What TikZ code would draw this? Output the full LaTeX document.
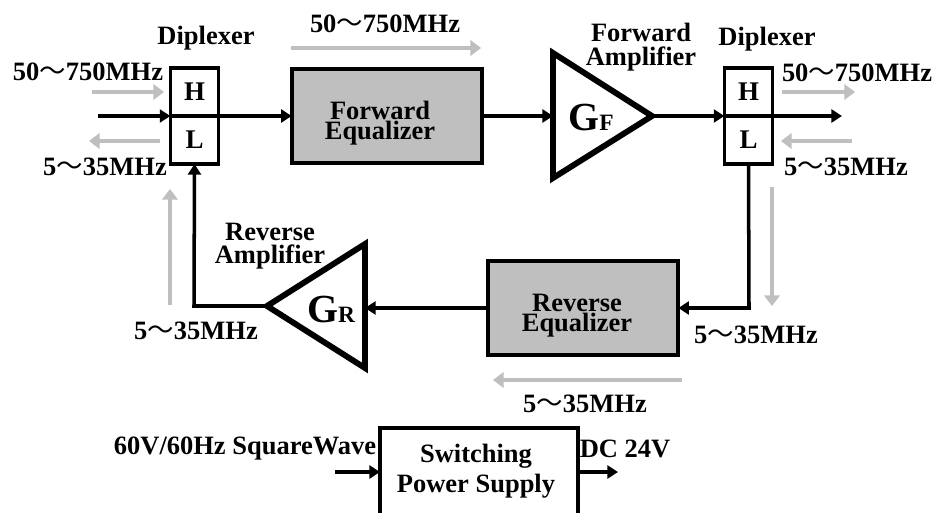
\documentclass[tikz,border=0pt]{standalone}
\usepackage{fontspec}
\setmainfont{Liberation Serif}
\newfontfamily\cjk{Noto Sans CJK SC}
\usetikzlibrary{arrows.meta}
\newcommand{\wave}{{\cjk\mdseries ～}}
\tikzset{
    lbl/.style={font=\fontsize{22.6}{20}\selectfont\bfseries, inner sep=0pt, align=center},
    bigbox/.style={draw, line width=3.4pt, fill=black!25, outer sep=0pt, minimum width=5.72cm, minimum height=2.82cm},
    sig/.style={line width=3pt, -{Triangle[length=9pt,width=11pt]}},
    flow/.style={line width=4pt, draw=black!25, -{Triangle[length=9pt,width=13pt]}, black!25},
    tri/.style={line width=5pt, line join=miter},
    dip/.style={draw, line width=3pt, outer sep=0pt, minimum width=1.45cm, minimum height=1.44cm, inner sep=0pt, font=\fontsize{23}{24}\selectfont\bfseries}
}
\begin{document}
\begin{tikzpicture}[x=0.03cm, y=-0.03cm]
    \useasboundingbox (0,0) rectangle (934,513);

    % Diplexers
    \node[dip] (hl) at (194.5,92) {H};
    \node[dip] (ll) at (194.5,140) {L};
    \node[dip] (hr) at (748.5,92) {H};
    \node[dip] (lr) at (748.5,140) {L};
    \node[lbl] (dipl) at (206,38) {Diplexer};
    \node[lbl] (dipr) at (767,39) {Diplexer};

    % Equalizers
    \node[bigbox] (feq) at (387,116) {};
    \node[lbl] (feqt) at (380,123) {Forward\\[-3pt]Equalizer};
    \node[bigbox] (req) at (583,308) {};
    \node[lbl] (reqt) at (577,316) {Reverse\\[-3pt]Equalizer};

    % Amplifiers
    \coordinate (gfin) at (553,116);
    \coordinate (gfout) at (652,116);
    \coordinate (grin) at (365,308);
    \coordinate (grout) at (267,306);
    \draw[tri] (553,53) -- (gfout) -- (553,178) -- cycle;
    \draw[tri] (365,244) -- (grout) -- (365,368) -- cycle;
    \node[inner sep=0pt, font=\bfseries] (gf) at (591,118) {\fontsize{34}{35}\selectfont G\fontsize{20}{21}\selectfont F};
    \node[inner sep=0pt, font=\bfseries] (gr) at (331,310) {\fontsize{34}{35}\selectfont G\fontsize{20}{21}\selectfont R};
    \node[lbl] (fwamp) at (641,47) {Forward\\Amplifier};
    \node[lbl] (rvamp) at (270,246) {Reverse\\Amplifier};

    % Power supply, open at the bottom edge
    \coordinate (psl) at (380,513);
    \coordinate (psr) at (578,513);
    \coordinate (psin) at (380,472);
    \coordinate (psout) at (578,472);
    \draw[line width=3.4pt] (psl) -- (380,428) -- (578,428) -- (psr);
    \node[lbl] (pst) at (476,471) {Switching\\[4pt]Power Supply};
    \node[lbl] (psa) at (245,449) {60V/60Hz SquareWave};
    \node[lbl] (psb) at (625,449) {DC 24V};

    % Signal path
    \coordinate (inl) at (98,116);
    \coordinate (outr) at (842,116);
    \coordinate (fbr) at (749,308);
    \coordinate (fbl) at (194,306);
    \coordinate (psa0) at (335,472);
    \coordinate (psb0) at (618,472);
    \draw[sig] (inl) -- (hl.south west);
    \draw[sig] (hl.south east) -- (feq.west);
    \draw[sig] (feq.east) -- (gfin);
    \draw[sig] (gfout) -- (hr.south west);
    \draw[sig] (hr.south east) -- (outr);
    \draw[sig] (lr.south) -- (fbr) -- (req.east);
    \draw[sig] (req.west) -- (grin);
    \draw[sig] (grout) -- (fbl) -- (ll.south);
    \draw[sig] (psa0) -- (psin);
    \draw[sig] (psout) -- (psb0);

    % Gray flow arrows
    \draw[flow] (92,92) -- (164,92);
    \draw[flow] (160,141) -- (89,141);
    \draw[flow] (170,305) -- (170,189);
    \draw[flow] (291,48) -- (481,48);
    \draw[flow] (782,92) -- (855,92);
    \draw[flow] (852,141) -- (781,141);
    \draw[flow] (772,187) -- (772,306);
    \draw[flow] (682,380) -- (493,380);

    % Frequency labels
    \node[lbl] (ta) at (88,72) {50\wave750MHz};
    \node[lbl] (tb) at (105,167) {5\wave35MHz};
    \node[lbl] (tc) at (385,24) {50\wave750MHz};
    \node[lbl] (td) at (857,73) {50\wave750MHz};
    \node[lbl] (te) at (846,167) {5\wave35MHz};
    \node[lbl] (tf) at (196,331) {5\wave35MHz};
    \node[lbl] (tg) at (756,335) {5\wave35MHz};
    \node[lbl] (th) at (585,404) {5\wave35MHz};
\end{tikzpicture}
\end{document}
